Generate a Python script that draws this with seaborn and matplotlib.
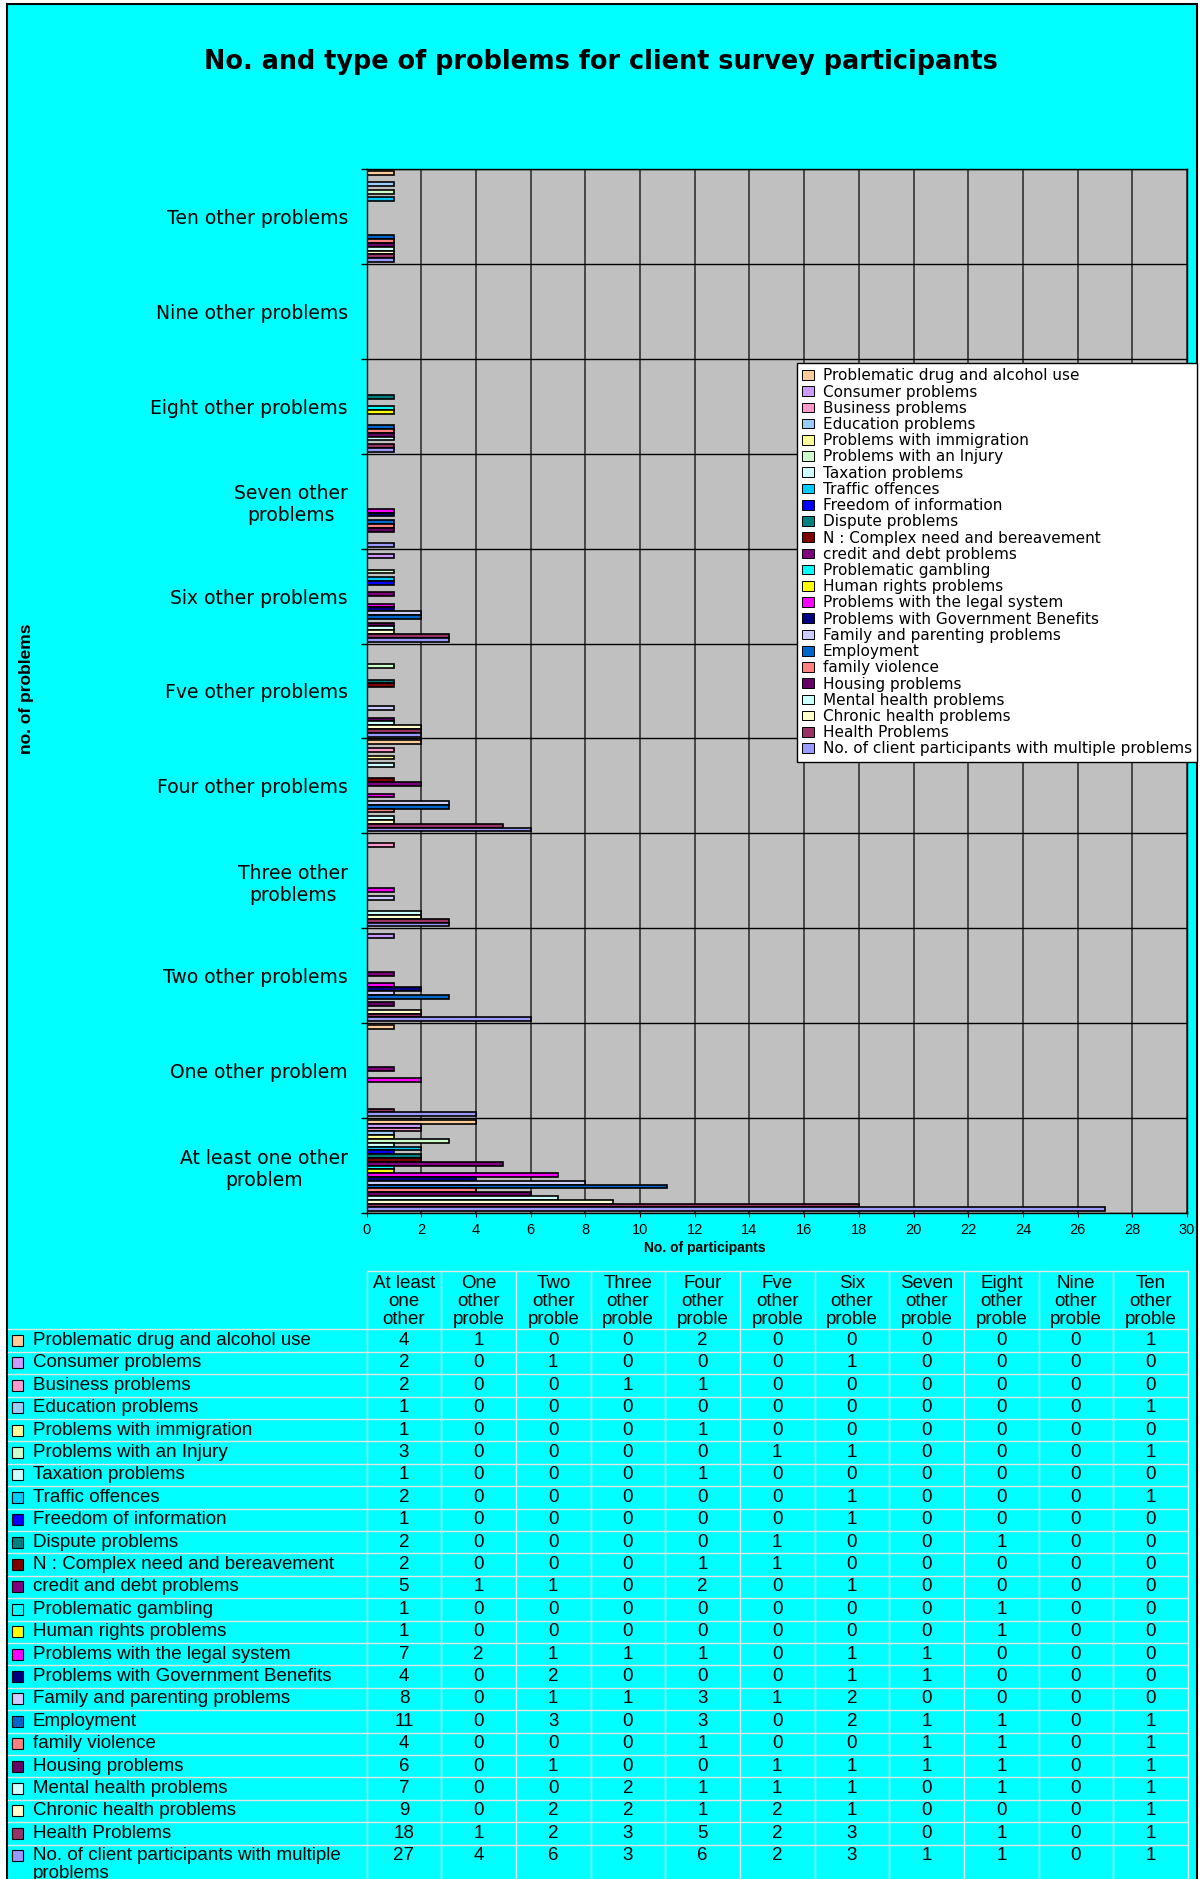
import numpy as np
import pandas as pd
import matplotlib.pyplot as plt
import seaborn as sns
from matplotlib.patches import Rectangle, Patch

plt.rcParams['font.family'] = ['Liberation Sans', 'DejaVu Sans']

# --- data ---
categories = ['At least one other problem', 'One other problem', 'Two other problems',
              'Three other problems', 'Four other problems', 'Fve other problems',
              'Six other problems', 'Seven other problems', 'Eight other problems',
              'Nine other problems', 'Ten other problems']
tick_labels = ['At least one other\nproblem', 'One other problem', 'Two other problems',
               'Three other\nproblems', 'Four other problems', 'Fve other problems',
               'Six other problems', 'Seven other\nproblems', 'Eight other problems',
               'Nine other problems', 'Ten other problems']
table_headers = ['At least\none\nother', 'One\nother\nproble', 'Two\nother\nproble',
                 'Three\nother\nproble', 'Four\nother\nproble', 'Fve\nother\nproble',
                 'Six\nother\nproble', 'Seven\nother\nproble', 'Eight\nother\nproble',
                 'Nine\nother\nproble', 'Ten\nother\nproble']

drug_alcohol     = [4, 1, 0, 0, 2, 0, 0, 0, 0, 0, 1]
consumer         = [2, 0, 1, 0, 0, 0, 1, 0, 0, 0, 0]
business         = [2, 0, 0, 1, 1, 0, 0, 0, 0, 0, 0]
education        = [1, 0, 0, 0, 0, 0, 0, 0, 0, 0, 1]
immigration      = [1, 0, 0, 0, 1, 0, 0, 0, 0, 0, 0]
injury           = [3, 0, 0, 0, 0, 1, 1, 0, 0, 0, 1]
taxation         = [1, 0, 0, 0, 1, 0, 0, 0, 0, 0, 0]
traffic          = [2, 0, 0, 0, 0, 0, 1, 0, 0, 0, 1]
freedom_info     = [1, 0, 0, 0, 0, 0, 1, 0, 0, 0, 0]
dispute          = [2, 0, 0, 0, 0, 1, 0, 0, 1, 0, 0]
complex_need     = [2, 0, 0, 0, 1, 1, 0, 0, 0, 0, 0]
credit_debt      = [5, 1, 1, 0, 2, 0, 1, 0, 0, 0, 0]
gambling         = [1, 0, 0, 0, 0, 0, 0, 0, 1, 0, 0]
human_rights     = [1, 0, 0, 0, 0, 0, 0, 0, 1, 0, 0]
legal_system     = [7, 2, 1, 1, 1, 0, 1, 1, 0, 0, 0]
gov_benefits     = [4, 0, 2, 0, 0, 0, 1, 1, 0, 0, 0]
family_parenting = [8, 0, 1, 1, 3, 1, 2, 0, 0, 0, 0]
employment       = [11, 0, 3, 0, 3, 0, 2, 1, 1, 0, 1]
family_violence  = [4, 0, 0, 0, 1, 0, 0, 1, 1, 0, 1]
housing          = [6, 0, 1, 0, 0, 1, 1, 1, 1, 0, 1]
mental_health    = [7, 0, 0, 2, 1, 1, 1, 0, 1, 0, 1]
chronic_health   = [9, 0, 2, 2, 1, 2, 1, 0, 0, 0, 1]
health           = [18, 1, 2, 3, 5, 2, 3, 0, 1, 0, 1]
multiple         = [27, 4, 6, 3, 6, 2, 3, 1, 1, 0, 1]

series_names = ['Problematic drug and alcohol use', 'Consumer problems', 'Business problems',
                'Education problems', 'Problems with immigration', 'Problems with an Injury',
                'Taxation problems', 'Traffic offences', 'Freedom of information',
                'Dispute problems', 'N : Complex need and bereavement', 'credit and debt problems',
                'Problematic gambling', 'Human rights problems', 'Problems with the legal system',
                'Problems with Government Benefits', 'Family and parenting problems', 'Employment',
                'family violence', 'Housing problems', 'Mental health problems',
                'Chronic health problems', 'Health Problems',
                'No. of client participants with multiple problems']
series_values = [drug_alcohol, consumer, business, education, immigration, injury, taxation,
                 traffic, freedom_info, dispute, complex_need, credit_debt, gambling,
                 human_rights, legal_system, gov_benefits, family_parenting, employment,
                 family_violence, housing, mental_health, chronic_health, health, multiple]
series_colors = ['#FFCC99', '#CC99FF', '#FF99CC', '#99CCFF', '#FFFF99', '#CCFFCC', '#CCFFFF',
                 '#00CCFF', '#0000FF', '#008080', '#800000', '#800080', '#00FFFF', '#FFFF00',
                 '#FF00FF', '#000080', '#CCCCFF', '#0066CC', '#FF8080', '#660066', '#CCFFFF',
                 '#FFFFCC', '#993366', '#9999FF']

rows = []
for name, vals in zip(series_names, series_values):
    for cat, v in zip(categories, vals):
        rows.append((cat, name, v))
df = pd.DataFrame(rows, columns=['problems', 'series', 'participants'])

# --- figure ---
W, H = 1202, 1879
fig = plt.figure(figsize=(W / 100, H / 100), dpi=100, facecolor='white')

bg = fig.add_axes([0, 0, 1, 1], zorder=0)
bg.set_xlim(0, W)
bg.set_ylim(H, 0)
bg.axis('off')
bg.add_patch(Rectangle((7, 4), 1190, H + 10, facecolor='#00FFFF', edgecolor='black', lw=1.5))
bg.text(601, 62, 'No. and type of problems for client survey participants', ha='center',
        va='center', fontsize=18.4, fontweight='bold', family='DejaVu Sans')

pl, pr, pt, pb = 366.5, 1187, 169, 1213
ax = fig.add_axes([pl / W, 1 - pb / H, (pr - pl) / W, (pb - pt) / H], zorder=2)
ax.set_facecolor('#C0C0C0')

sns.barplot(data=df, y='problems', x='participants', hue='series', order=categories[::-1],
            hue_order=series_names, palette=series_colors, orient='h', width=0.96,
            saturation=1, edgecolor='black', linewidth=1.2, errorbar=None, legend=False, ax=ax)

ax.set_xlim(0, 30)
ax.set_xticks(range(0, 31, 2))
ax.set_ylim(10.5, -0.5)
ax.set_yticks(range(11))
ax.set_yticklabels(tick_labels[::-1], family='DejaVu Sans', fontsize=13.5)
for lab in ax.get_yticklabels():
    lab.set_multialignment('center')
ax.set_yticks(np.arange(-0.5, 11, 1), minor=True)
ax.tick_params(axis='y', which='major', length=0, pad=13.3)
ax.tick_params(axis='y', which='minor', length=4, direction='out', color='black', width=1)
ax.tick_params(axis='x', length=3, direction='out', color='black', labelsize=10.5, pad=4)

ax.set_axisbelow(True)
ax.grid(False)
ax.grid(axis='x', which='major', color='#333333', lw=1.2)
ax.grid(axis='y', which='minor', color='black', lw=1)
for s in ax.spines.values():
    s.set_color('black')
    s.set_linewidth(1)

ax.set_xlabel('No. of participants', fontsize=10, fontweight='bold')
ax.xaxis.set_label_coords((705 - pl) / (pr - pl), (pb - 1241) / (pb - pt))
ax.set_ylabel('no. of problems', fontsize=12.5, fontweight='bold')
ax.yaxis.set_label_coords((34 - pl) / (pr - pl), 0.502)

handles = [Patch(facecolor=c, edgecolor='black', linewidth=0.7, label=n)
           for n, c in zip(series_names, series_colors)]
leg = ax.legend(handles=handles, loc='upper left', bbox_to_anchor=(797 / W, 1 - 363 / H),
                bbox_transform=fig.transFigure, prop={'family': 'DejaVu Sans', 'size': 11},
                frameon=True, fancybox=False, framealpha=1, edgecolor='black',
                borderpad=0.35, labelspacing=0.08, handlelength=0.75, handleheight=0.6,
                handletextpad=0.6, borderaxespad=0)
leg.get_frame().set_linewidth(1)

# --- data table under the chart ---
col_left, col_right = 366.6, 1188
col_w = (col_right - col_left) / len(categories)
hdr_top, row_top0, row_h = 1271, 1329.3, 22.4
line_color = '#E4E4E4'

bg.plot([col_left, col_right], [hdr_top, hdr_top], color=line_color, lw=1)
for j in range(len(categories) + 1):
    x = col_left + j * col_w
    bg.plot([x, x], [hdr_top, H], color=line_color, lw=1)
for i in range(len(series_names)):
    y = row_top0 + i * row_h
    bg.plot([8, col_right], [y, y], color=line_color, lw=1)

for j, head in enumerate(table_headers):
    for k, line in enumerate(head.split('\n')):
        bg.text(col_left + (j + 0.5) * col_w, 1283 + 18 * k, line, ha='center', va='center',
                fontsize=13.5)

for i, (name, color, vals) in enumerate(zip(series_names, series_colors, series_values)):
    yc = row_top0 + (i + 0.5) * row_h
    bg.add_patch(Rectangle((12, yc - 5.5), 11, 11, facecolor=color, edgecolor='black', lw=0.8))
    for k, line in enumerate(name.replace(' multiple problems', ' multiple\nproblems').split('\n')):
        bg.text(33, yc + 18 * k, line, ha='left', va='center', fontsize=13.5)
    for j, v in enumerate(vals):
        bg.text(col_left + (j + 0.5) * col_w, yc, str(v), ha='center', va='center', fontsize=13.5)

fig.savefig('out.png', dpi=100, facecolor=fig.get_facecolor())
